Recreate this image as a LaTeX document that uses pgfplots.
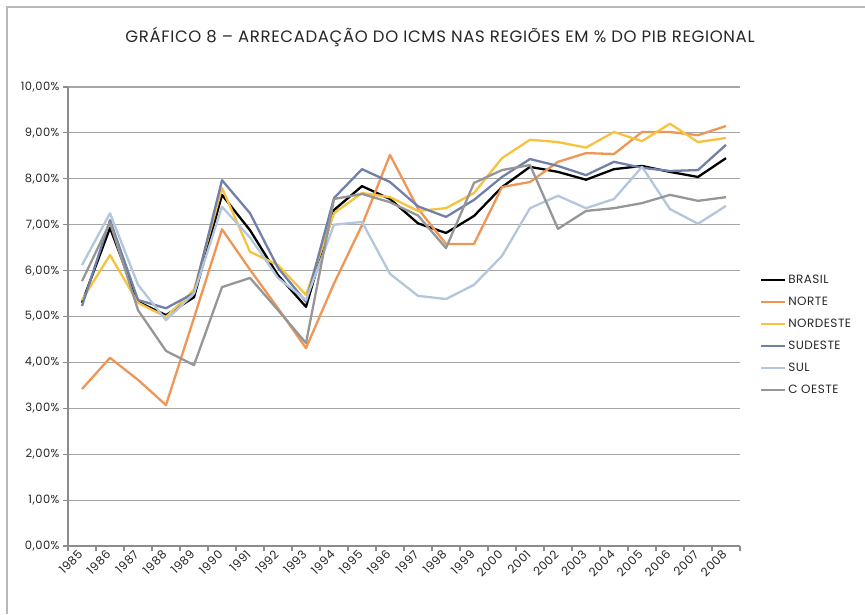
\documentclass[border=0pt]{standalone}
\usepackage{pgfplots}
\pgfplotsset{compat=1.18}
\usepackage{pgfplotstable}
\usepackage{fontspec}
\setmainfont{Poppins}
\newfontfamily\spaced[LetterSpace=4]{Poppins}
\definecolor{cBR}{HTML}{000000}
\definecolor{cNO}{HTML}{EF9555}
\definecolor{cNE}{HTML}{F7C23E}
\definecolor{cSE}{HTML}{7080A8}
\definecolor{cSU}{HTML}{B4C6DC}
\definecolor{cCO}{HTML}{969696}
\definecolor{cGrid}{HTML}{A6A6A6}
\definecolor{cAxis}{HTML}{8C8C8C}

\pgfplotstableread{
idx BRASIL NORTE NORDESTE SUDESTE SUL COESTE
0  5.30 3.42 5.36 5.23 6.12 5.77
1  6.93 4.10 6.34 7.10 7.25 7.05
2  5.32 3.62 5.30 5.36 5.69 5.14
3  5.03 3.07 4.99 5.18 4.92 4.25
4  5.42 4.97 5.58 5.51 5.50 3.94
5  7.65 6.90 7.80 7.97 7.39 5.64
6  6.88 6.02 6.41 7.25 6.72 5.84
7  5.90 5.18 6.12 6.06 5.84 5.14
8  5.21 4.31 5.47 5.32 5.36 4.42
9  7.32 5.72 7.25 7.58 7.00 7.56
10 7.84 6.99 7.69 8.21 7.06 7.67
11 7.56 8.52 7.60 7.93 5.93 7.49
12 7.03 7.35 7.30 7.40 5.45 7.20
13 6.82 6.58 7.36 7.17 5.38 6.49
14 7.19 6.58 7.69 7.54 5.69 7.91
15 7.82 7.82 8.45 8.04 6.32 8.19
16 8.26 7.93 8.85 8.43 7.36 8.30
17 8.15 8.37 8.80 8.28 7.63 6.91
18 7.98 8.56 8.68 8.08 7.36 7.30
19 8.21 8.54 9.02 8.37 7.56 7.36
20 8.28 9.02 8.82 8.24 8.26 7.47
21 8.15 9.02 9.20 8.17 7.34 7.65
22 8.04 8.95 8.80 8.19 7.02 7.52
23 8.45 9.15 8.89 8.74 7.41 7.60
}\data

\begin{document}
\begin{tikzpicture}
\useasboundingbox (0pt,0pt) rectangle (865pt,614pt);
\draw[color=cGrid!80, line width=1.2pt] (7pt,0pt) -- (7pt,607pt) -- (865pt,607pt);
\node[font=\fontsize{16.5}{19}\spaced, text=black!85] at (440pt,577pt) {GRÁFICO 8 – ARRECADAÇÃO DO ICMS NAS REGIÕES EM \% DO PIB REGIONAL};
\begin{axis}[
  at={(68pt,68pt)}, anchor=south west,
  scale only axis, width=672pt, height=459pt,
  xmin=-0.5, xmax=23.5, ymin=0, ymax=10,
  axis lines*=left,
  axis line style={draw=cAxis, line width=1.5pt},
  ytick={0,1,...,10},
  yticklabels={{0,00\%},{1,00\%},{2,00\%},{3,00\%},{4,00\%},{5,00\%},{6,00\%},{7,00\%},{8,00\%},{9,00\%},{10,00\%}},
  xtick={0,1,...,23},
  xticklabels={1985,1986,1987,1988,1989,1990,1991,1992,1993,1994,1995,1996,1997,1998,1999,2000,2001,2002,2003,2004,2005,2006,2007,2008},
  minor xtick={-0.5,0.5,...,23.5},
  tick align=outside,
  major tick length=5pt, minor tick length=5pt,
  major x tick style={draw=none},
  every tick/.style={draw=cAxis, line width=1.2pt},
  minor x tick style={draw=cAxis, line width=1.2pt},
  ymajorgrids, grid style={draw=cGrid, line width=1.2pt},
  y tick label style={font=\fontsize{11.5}{13}\spaced, text=black!85},
  x tick label style={font=\fontsize{11.8}{13}\spaced, text=black!85, rotate=45, anchor=east, inner sep=2pt},
  legend style={at={(1.025,0.46)}, anchor=west, draw=none, fill=none,
    font=\fontsize{12}{14}\spaced, row sep=8pt, text=black!85},
  legend cell align=left,
  legend image code/.code={\draw[#1] (0pt,0pt) -- (24pt,0pt);},
  every axis plot/.append style={line width=2.3pt, line join=round, no marks},
]
\addplot[color=cBR] table[x=idx, y=BRASIL] {\data};
\addlegendentry{BRASIL}
\addplot[color=cNO] table[x=idx, y=NORTE] {\data};
\addlegendentry{NORTE}
\addplot[color=cNE] table[x=idx, y=NORDESTE] {\data};
\addlegendentry{NORDESTE}
\addplot[color=cSE] table[x=idx, y=SUDESTE] {\data};
\addlegendentry{SUDESTE}
\addplot[color=cSU] table[x=idx, y=SUL] {\data};
\addlegendentry{SUL}
\addplot[color=cCO] table[x=idx, y=COESTE] {\data};
\addlegendentry{C OESTE}
\end{axis}
\end{tikzpicture}
\end{document}
